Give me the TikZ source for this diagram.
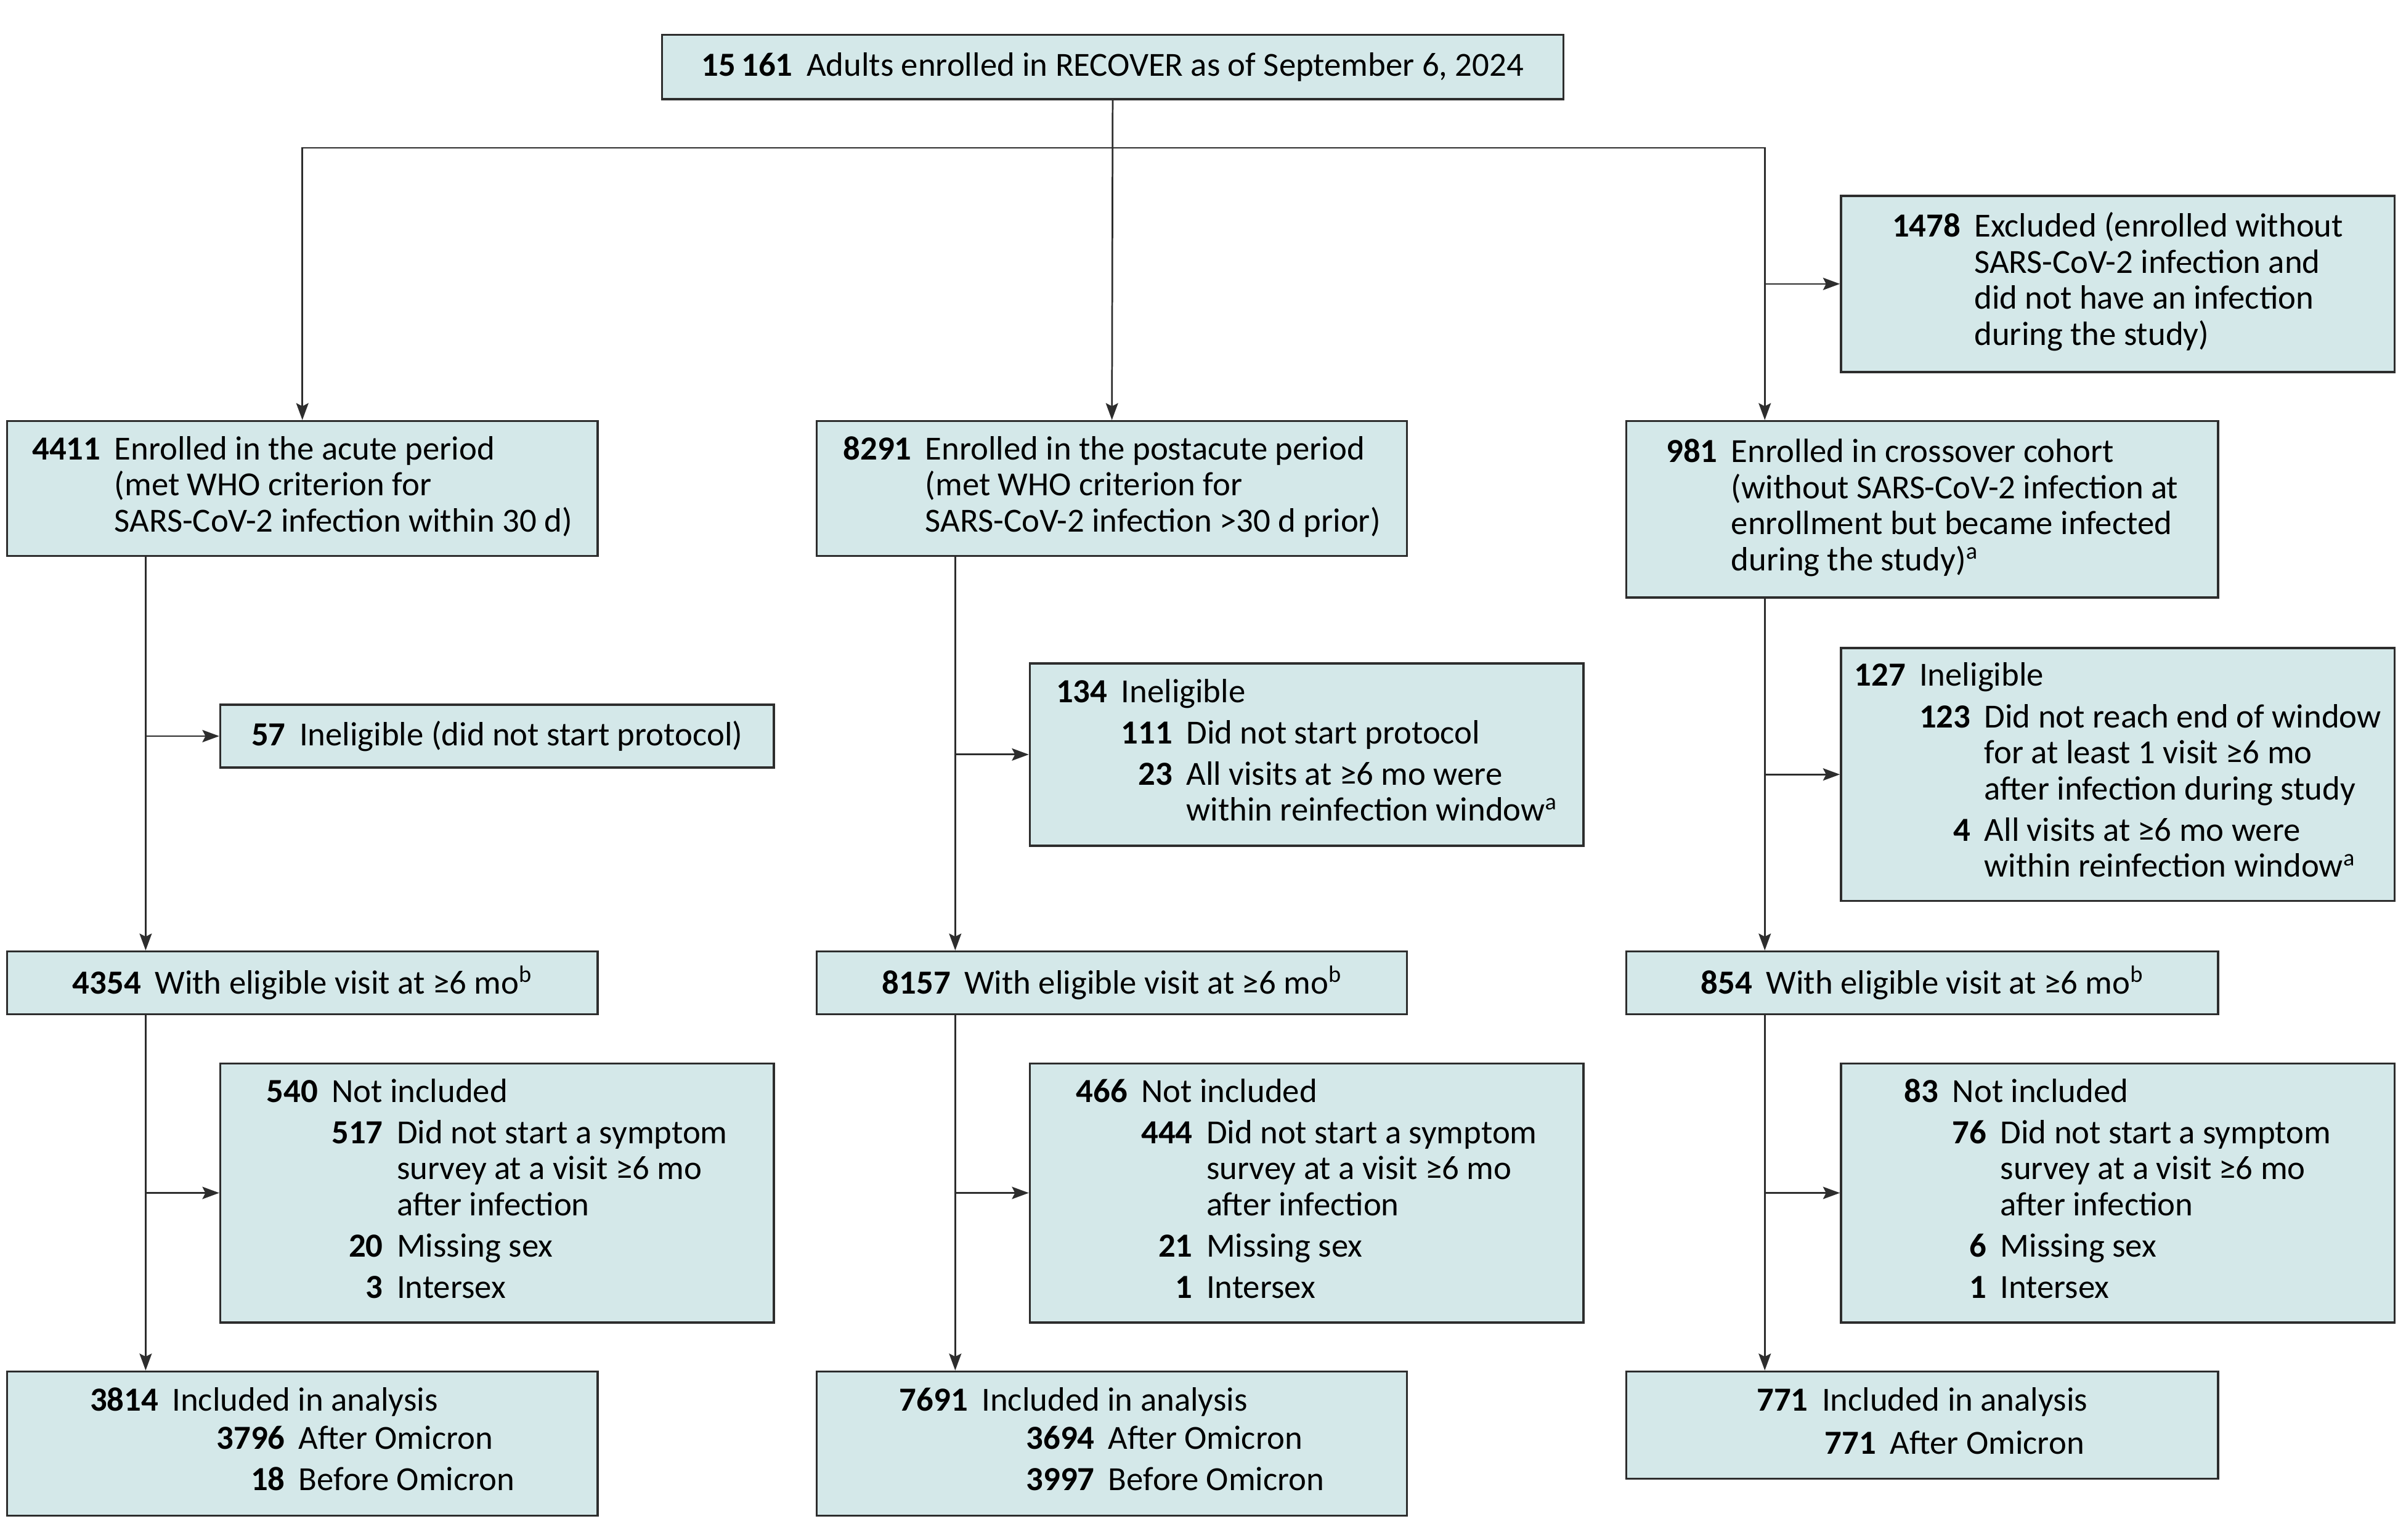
\documentclass[tikz,border=0pt]{standalone}
\usepackage{fontspec}
\setmainfont{Carlito}
\usepackage{tikz}
\usetikzlibrary{arrows.meta}
\usetikzlibrary{positioning}
\definecolor{fond}{RGB}{212,232,233}
\definecolor{trait}{RGB}{45,45,45}
\tikzstyle{bloc}=[
        draw=trait,
        line width=1.4pt,
        fill=fond,
        anchor=north west,
        inner sep=0pt,
        font=\fontsize{22}{23.5}\selectfont
]
\tikzstyle{fleche}=[-{Stealth[length=11pt,width=8pt,inset=2pt]},draw=trait,line width=1.1pt]
\newcommand{\effectif}[1]{\textbf{#1}\hspace{9pt}}

\begin{document}
\begin{tikzpicture}[x=1pt,y=-1pt]
\useasboundingbox (0,0) rectangle (1564,1004.6);
\node[bloc,minimum width=588pt,minimum height=42pt] (total) at (431,22) {\effectif{15\,161}Adults enrolled in RECOVER as of September 6, 2024};
\node[bloc,minimum width=361pt,minimum height=115pt] (exclu) at (1200,127) {\begin{tabular}{@{}r@{\hspace{9pt}}l@{}}
\textbf{1478} & Excluded (enrolled without\\
 & SARS-CoV-2 infection and\\
 & did not have an infection\\
 & during the study)
\end{tabular}};
%Enrollment
\node[bloc,minimum width=385pt,minimum height=88pt] (enrolA) at (4,274) {\begin{tabular}{@{}r@{\hspace{9pt}}l@{}}
\textbf{4411} & Enrolled in the acute period\\
 & (met WHO criterion for\\
 & SARS-CoV-2 infection within 30 d)
\end{tabular}};
\node[bloc,minimum width=385pt,minimum height=88pt] (enrolB) at (532,274) {\begin{tabular}{@{}r@{\hspace{9pt}}l@{}}
\textbf{8291} & Enrolled in the postacute period\\
 & (met WHO criterion for\\
 & SARS-CoV-2 infection >30 d prior)
\end{tabular}};
\node[bloc,minimum width=386pt,minimum height=115pt] (enrolC) at (1060,274) {\begin{tabular}{@{}r@{\hspace{9pt}}l@{}}
\textbf{981} & Enrolled in crossover cohort\\
 & (without SARS-CoV-2 infection at\\
 & enrollment but became infected\\
 & during the study)\textsuperscript{a}
\end{tabular}};
%Ineligible
\node[bloc,minimum width=361pt,minimum height=41pt] (inelA) at (143,459) {\effectif{57}Ineligible (did not start protocol)};
\node[bloc,minimum width=361pt,minimum height=119pt] (inelB) at (671,432) {\begin{tabular}{@{}r@{\hspace{9pt}}r@{\hspace{9pt}}l@{}}
\textbf{134} & \multicolumn{2}{@{}l@{}}{Ineligible}\\[3.5pt]
 & \textbf{111} & Did not start protocol\\[3.5pt]
 & \textbf{23} & All visits at ≥6 mo were\\
 & & within reinfection window\textsuperscript{a}
\end{tabular}};
\node[bloc,minimum width=361pt,minimum height=165pt] (inelC) at (1200,422) {\begin{tabular}{@{}r@{\hspace{9pt}}r@{\hspace{9pt}}l@{}}
\textbf{127} & \multicolumn{2}{@{}l@{}}{Ineligible}\\[3.5pt]
 & \textbf{123} & Did not reach end of window\\
 & & for at least 1 visit ≥6 mo\\
 & & after infection during study\\[3.5pt]
 & \textbf{4} & All visits at ≥6 mo were\\
 & & within reinfection window\textsuperscript{a}
\end{tabular}};
%Eligible
\node[bloc,minimum width=385pt,minimum height=41pt] (eligA) at (4,620) {\effectif{4354}With eligible visit at ≥6 mo\textsuperscript{b}};
\node[bloc,minimum width=385pt,minimum height=41pt] (eligB) at (532,620) {\effectif{8157}With eligible visit at ≥6 mo\textsuperscript{b}};
\node[bloc,minimum width=386pt,minimum height=41pt] (eligC) at (1060,620) {\effectif{854}With eligible visit at ≥6 mo\textsuperscript{b}};
%Not included
\node[bloc,minimum width=361pt,minimum height=169pt] (nonA) at (143,693) {\begin{tabular}{@{}r@{\hspace{9pt}}r@{\hspace{9pt}}l@{}}
\textbf{540} & \multicolumn{2}{@{}l@{}}{Not included}\\[3.5pt]
 & \textbf{517} & Did not start a symptom\\
 & & survey at a visit ≥6 mo\\
 & & after infection\\[3.5pt]
 & \textbf{20} & Missing sex\\[3.5pt]
 & \textbf{3} & Intersex
\end{tabular}};
\node[bloc,minimum width=361pt,minimum height=169pt] (nonB) at (671,693) {\begin{tabular}{@{}r@{\hspace{9pt}}r@{\hspace{9pt}}l@{}}
\textbf{466} & \multicolumn{2}{@{}l@{}}{Not included}\\[3.5pt]
 & \textbf{444} & Did not start a symptom\\
 & & survey at a visit ≥6 mo\\
 & & after infection\\[3.5pt]
 & \textbf{21} & Missing sex\\[3.5pt]
 & \textbf{1} & Intersex
\end{tabular}};
\node[bloc,minimum width=361pt,minimum height=169pt] (nonC) at (1200,693) {\begin{tabular}{@{}r@{\hspace{9pt}}r@{\hspace{9pt}}l@{}}
\textbf{83} & \multicolumn{2}{@{}l@{}}{Not included}\\[3.5pt]
 & \textbf{76} & Did not start a symptom\\
 & & survey at a visit ≥6 mo\\
 & & after infection\\[3.5pt]
 & \textbf{6} & Missing sex\\[3.5pt]
 & \textbf{1} & Intersex
\end{tabular}};
%Analysis
\node[bloc,minimum width=385pt,minimum height=94pt] (analA) at (4,894) {\begin{tabular}{@{}r@{\hspace{9pt}}r@{\hspace{9pt}}l@{}}
\textbf{3814} & \multicolumn{2}{@{}l@{}}{Included in analysis}\\[1.5pt]
 & \hspace{29pt}\textbf{3796} & After Omicron\\[3.5pt]
 & \textbf{18} & Before Omicron
\end{tabular}};
\node[bloc,minimum width=385pt,minimum height=94pt] (analB) at (532,894) {\begin{tabular}{@{}r@{\hspace{9pt}}r@{\hspace{9pt}}l@{}}
\textbf{7691} & \multicolumn{2}{@{}l@{}}{Included in analysis}\\[1.5pt]
 & \hspace{29pt}\textbf{3694} & After Omicron\\[3.5pt]
 & \textbf{3997} & Before Omicron
\end{tabular}};
\node[bloc,minimum width=386pt,minimum height=70pt] (analC) at (1060,894) {\begin{tabular}{@{}r@{\hspace{9pt}}r@{\hspace{9pt}}l@{}}
\textbf{771} & \multicolumn{2}{@{}l@{}}{Included in analysis}\\[4.5pt]
 & \hspace{2pt}\textbf{771} & After Omicron
\end{tabular}};
%Drawing Edges
\coordinate (fourche) at ([yshift=-31pt]total.south);
\coordinate (hautC) at ([xshift=91pt]enrolC.north west);
\draw[fleche] (total.south) -- (enrolB.north);
\draw[fleche] (fourche) -| (enrolA.north);
\draw[fleche] (fourche) -| (hautC);
\draw[fleche] (exclu.west -| hautC) -- (exclu.west);
\coordinate (troncA) at ([xshift=91pt]enrolA.south west);
\coordinate (troncB) at ([xshift=91pt]enrolB.south west);
\coordinate (troncC) at ([xshift=91pt]enrolC.south west);
\draw[fleche] (troncA) -- (troncA |- eligA.north);
\draw[fleche] (troncB) -- (troncB |- eligB.north);
\draw[fleche] (troncC) -- (troncC |- eligC.north);
\draw[fleche] (inelA.west -| troncA) -- (inelA.west);
\draw[fleche] (inelB.west -| troncB) -- (inelB.west);
\draw[fleche] (inelC.west -| troncC) -- (inelC.west);
\coordinate (basA) at ([xshift=91pt]eligA.south west);
\coordinate (basB) at ([xshift=91pt]eligB.south west);
\coordinate (basC) at ([xshift=91pt]eligC.south west);
\draw[fleche] (basA) -- (basA |- analA.north);
\draw[fleche] (basB) -- (basB |- analB.north);
\draw[fleche] (basC) -- (basC |- analC.north);
\draw[fleche] (nonA.west -| basA) -- (nonA.west);
\draw[fleche] (nonB.west -| basB) -- (nonB.west);
\draw[fleche] (nonC.west -| basC) -- (nonC.west);
\end{tikzpicture}
\end{document}
